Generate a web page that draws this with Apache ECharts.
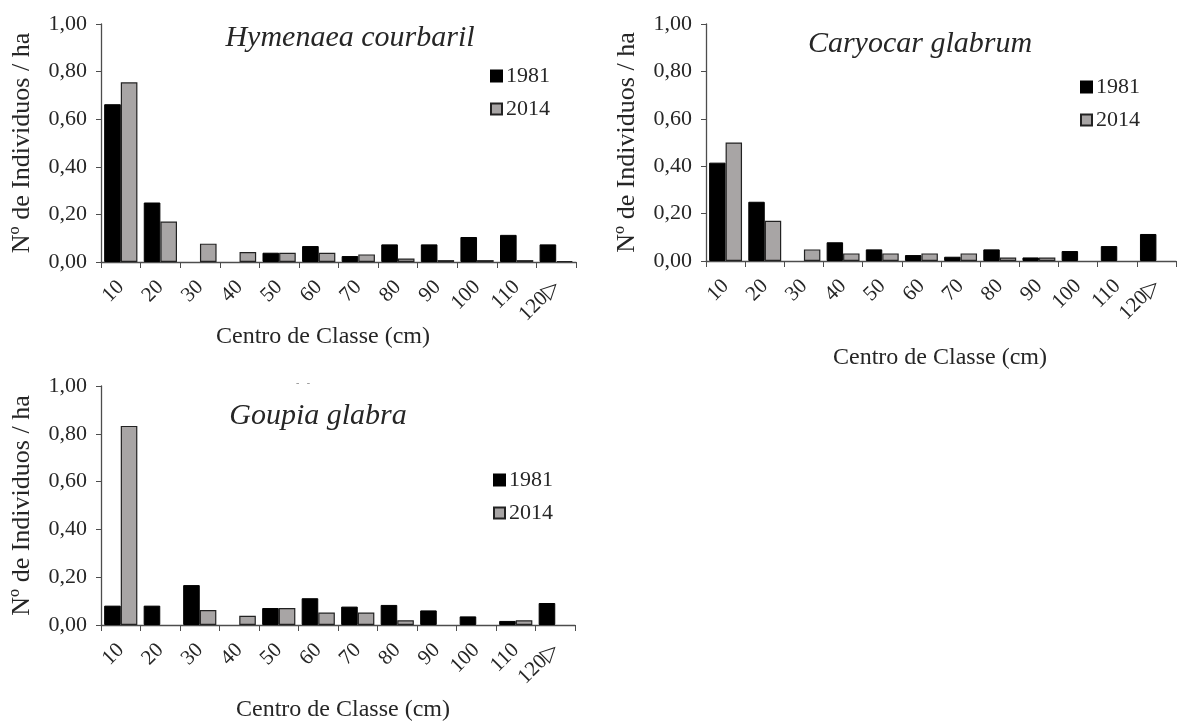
<!DOCTYPE html>
<html>
<head>
<meta charset="utf-8">
<script src="https://cdn.jsdelivr.net/npm/echarts@6/dist/echarts.min.js"></script>
<style>
html,body{margin:0;padding:0;background:#fff;}
#chart{width:1177px;height:722px;}
</style>
</head>
<body>
<div id="chart"></div>
<script>
const categories = ['10','20','30','40','50','60','70','80','90','100','110','120\u25B7'];
const seriesNames = ['1981','2014'];
const speciesTitles = ['Hymenaea courbaril','Caryocar glabrum','Goupia glabra'];
const yAxisTitle = 'N\u00BA de Individuos / ha';
const xAxisTitle = 'Centro de Classe (cm)';

const hymenaea1981 = [0.663,0.25,0,0,0.039,0.067,0.025,0.074,0.074,0.105,0.114,0.074];
const hymenaea2014 = [0.755,0.17,0.077,0.042,0.039,0.039,0.032,0.015,0.008,0.008,0.008,0.004];
const caryocar1981 = [0.415,0.25,0,0.079,0.049,0.025,0.018,0.049,0.015,0.042,0.063,0.114];
const caryocar2014 = [0.50,0.17,0.049,0.032,0.032,0.032,0.032,0.015,0.015,0,0,0];
const goupia1981 = [0.081,0.081,0.167,0,0.071,0.112,0.077,0.084,0.061,0.036,0.017,0.092];
const goupia2014 = [0.833,0,0.063,0.039,0.071,0.052,0.052,0.02,0,0,0.02,0];

const FONT = 'Liberation Serif';
const TXT = '#262626';
const AX = '#4d4d4d';

const grids = [
  {left:101, top:24, width:475, height:238},
  {left:706, top:24, width:470, height:237},
  {left:101, top:386, width:474, height:239}
];

function yAx(i){
  return {
    type:'value', gridIndex:i, min:0, max:1, interval:0.2,
    axisLine:{show:true, lineStyle:{color:AX, width:1.3}},
    axisTick:{show:true, length:5, lineStyle:{color:AX}},
    splitLine:{show:false},
    axisLabel:{fontFamily:FONT, fontSize:22, color:TXT, margin:14,
      formatter:v => v.toFixed(2).replace('.', ',')},
    name:yAxisTitle, nameLocation:'middle', nameGap:66, nameRotate:90,
    nameTextStyle:{fontFamily:FONT, fontSize:26, color:TXT}
  };
}
function xAx(i){
  return {
    type:'category', gridIndex:i, data:categories,
    axisLine:{show:true, lineStyle:{color:AX, width:1.3}},
    axisTick:{show:true, interval:0, length:6, alignWithLabel:false, lineStyle:{color:AX}},
    axisLabel:{interval:0, rotate:45, fontFamily:FONT, fontSize:21, color:TXT, margin:22}
  };
}
const blackStyle = {color:'#000000', borderColor:'#000000', borderWidth:1};
const grayStyle = {color:'#a8a5a5', borderColor:'#222222', borderWidth:1.2};

function nz(arr){ return arr.map(v => v === 0 ? null : v); }

function barSeries(i, d1, d2){
  return [
    {type:'bar', name:seriesNames[0], xAxisIndex:i, yAxisIndex:i, data:nz(d1),
     barGap:'0%', barCategoryGap:'16%', itemStyle:blackStyle},
    {type:'bar', name:seriesNames[1], xAxisIndex:i, yAxisIndex:i, data:nz(d2),
     barGap:'0%', barCategoryGap:'16%', itemStyle:grayStyle}
  ];
}
function legend(left, top){
  return {left:left, top:top, orient:'vertical', itemWidth:11, itemHeight:11, itemGap:11,
    icon:'rect', data:seriesNames,
    textStyle:{fontFamily:FONT, fontSize:22, color:TXT, padding:[0,0,0,-1]}};
}
function title(text, x, top){
  return {text:text, left:x, top:top, textAlign:'center',
    textStyle:{fontFamily:FONT, fontStyle:'italic', fontWeight:'normal', fontSize:30, color:TXT}};
}
function xTitle(x, y){
  return {type:'text', x:x, y:y, style:{text:xAxisTitle, font:'24px "Liberation Serif"',
    fill:TXT, textAlign:'center', textVerticalAlign:'middle'}};
}

const chart = echarts.init(document.getElementById('chart'), null, {renderer:'canvas'});
chart.setOption({
  animation:false,
  backgroundColor:'#ffffff',
  title:[
    title(speciesTitles[0], 345, 18),
    title(speciesTitles[1], 915, 24),
    title(speciesTitles[2], 313, 396)
  ],
  legend:[legend(485, 60), legend(1075, 71), legend(488, 464)],
  grid:grids,
  xAxis:[xAx(0), xAx(1), xAx(2)],
  yAxis:[yAx(0), yAx(1), yAx(2)],
  series:[].concat(
    barSeries(0, hymenaea1981, hymenaea2014),
    barSeries(1, caryocar1981, caryocar2014),
    barSeries(2, goupia1981, goupia2014)
  ),
  graphic:[
    xTitle(323, 337), xTitle(940, 358), xTitle(343, 710),
    {type:'text', x:303, y:383, style:{text:'-   -', font:'10px "Liberation Serif"', fill:'#888', textAlign:'center', textVerticalAlign:'middle'}}
  ]
});
</script>
</body>
</html>
